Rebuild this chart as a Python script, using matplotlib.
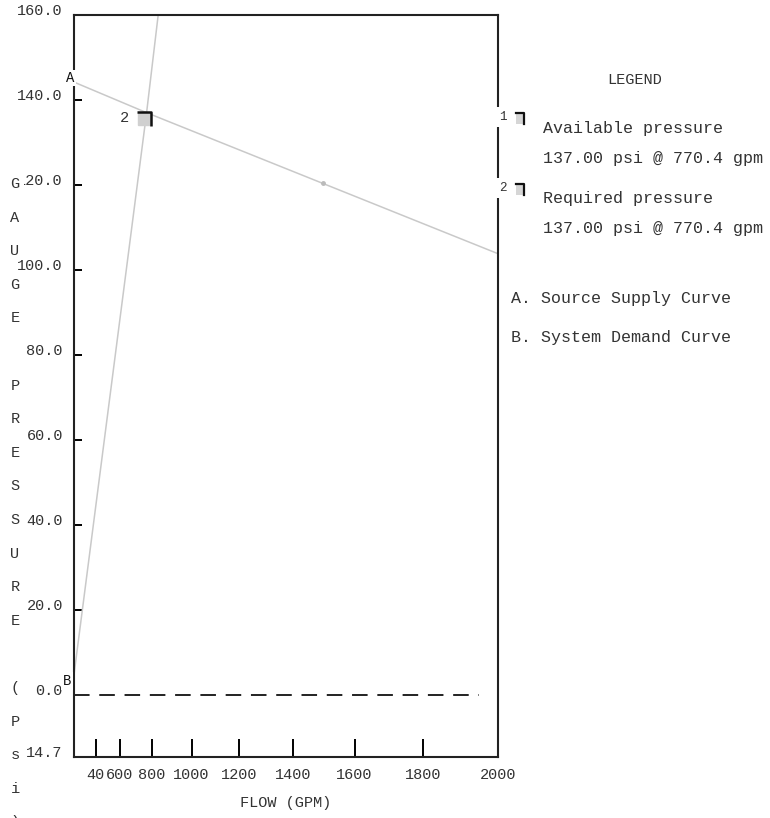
import numpy as np
import matplotlib
matplotlib.use('Agg')
import matplotlib.pyplot as plt
from matplotlib.path import Path
from matplotlib.patches import Rectangle
from matplotlib.transforms import ScaledTranslation

plt.rcParams['font.family'] = ['Liberation Mono', 'DejaVu Sans Mono']

# hydraulic graph paper: flow axis spaced as Q^1.85
supply_flow = [0, 770.4, 2000]
supply_psi = [144.2, 137.0, 103.8]
demand_flow = [0, 770.4, 900]
demand_psi = [4.7, 137.0, 185.0]
check_flow = [1500]
check_psi = [120.5]
atm_flow = [0, 1950]
atm_psi = [0, 0]
op_flow = 770.4
op_psi = 137.0

x_ticks = [400, 600, 800, 1000, 1200, 1400, 1600, 1800, 2000]
x_labels = ['40', '600', '800', '1000', '1200', '1400', '1600', '1800', '2000']
y_ticks = [-14.7, 0, 20, 40, 60, 80, 100, 120, 140, 160]
y_labels = ['14.7', '0.0', '20.0', '40.0', '60.0', '80.0', '100.0', '120.0', '140.0', '160.0']

legend_lines = [('1', 'Available pressure', '137.00 psi @ 770.4 gpm'),
                ('2', 'Required pressure', '137.00 psi @ 770.4 gpm')]
curve_notes = ['A. Source Supply Curve', 'B. System Demand Curve']

W, H = 770, 818
fig = plt.figure(figsize=(W / 100, H / 100), dpi=100)
ax = fig.add_axes([74 / W, 1 - 757 / H, 424 / W, 742 / H])


def fwd(q):
    q = np.asarray(q, dtype=float)
    return np.sign(q) * np.abs(q) ** 1.85


def inv(v):
    v = np.asarray(v, dtype=float)
    return np.sign(v) * np.abs(v) ** (1 / 1.85)


ax.set_xscale('function', functions=(fwd, inv))
ax.set_xlim(0, 2000)
ax.set_ylim(-14.7, 160)

grey = '#c9c9c9'
txt = '#333333'
ax.plot(supply_flow, supply_psi, color=grey, lw=1.1)
ax.plot(demand_flow, demand_psi, color=grey, lw=1.1)
ax.plot(check_flow, check_psi, 'o', ms=2.5, color='#bbbbbb')
ax.plot(atm_flow, atm_psi, color='#222222', lw=1.4, dashes=(8, 5))

# operating point marker
bracket = Path([(-1, 1), (1, 1), (1, -1)], [Path.MOVETO, Path.LINETO, Path.LINETO])
off = ax.transData + ScaledTranslation(-0.03, -0.06, fig.dpi_scale_trans)
ax.plot([op_flow], [op_psi], 's', ms=8.5, color='#d0d0d0', transform=off, zorder=4)
ax.plot([op_flow], [op_psi], marker=bracket, ms=10, mfc='none', mec='#111111', mew=1.8,
        transform=off, zorder=5)
ax.annotate('2', (op_flow, op_psi), xytext=(-18, -5), textcoords='offset pixels',
            ha='right', va='center', fontsize=11, color=txt)

ax.annotate('A', (0, supply_psi[0]), xytext=(-4, 4), textcoords='offset pixels',
            ha='center', va='center', fontsize=10, color='#111111', zorder=6,
            bbox=dict(boxstyle='square,pad=0.1', fc='white', ec='none'), annotation_clip=False)
ax.annotate('B', (0, demand_psi[0]), xytext=(-7, -6), textcoords='offset pixels',
            ha='center', va='center', fontsize=10, color='#111111', zorder=6,
            bbox=dict(boxstyle='square,pad=0.15', fc='white', ec='none'), annotation_clip=False)

for s in ax.spines.values():
    s.set_linewidth(1.5)
    s.set_color('#222222')

ax.set_xticks(x_ticks)
ax.set_xticklabels(x_labels)
ax.set_yticks(y_ticks)
ax.set_yticklabels(y_labels)
ax.minorticks_off()
ax.tick_params(axis='x', direction='in', length=13, width=1.4, pad=8,
               labelsize=11, labelcolor=txt)
ax.tick_params(axis='y', direction='in', length=6, width=1.4, pad=8,
               labelsize=11, labelcolor=txt)
for t in ax.yaxis.get_major_ticks():
    if t.get_loc() in (-14.7, 0, 160):
        t.tick1line.set_visible(False)
for t in ax.xaxis.get_major_ticks():
    if t.get_loc() == 2000:
        t.tick1line.set_visible(False)
lift = ScaledTranslation(0, 0.055, fig.dpi_scale_trans)
for lab in ax.get_yticklabels():
    lab.set_transform(lab.get_transform() + lift)

ax.set_xlabel('FLOW (GPM)', fontsize=11, color=txt, labelpad=10)

# vertical axis title, one letter per row (first G sits over the "1" of 120.0)
for k, ch in enumerate('GAUGE PRESSURE (Psi)'):
    if k == 0:
        fig.text(15 / W, 1 - 184 / H, ch, ha='center', va='center', fontsize=11,
                 color=txt, zorder=5,
                 bbox=dict(boxstyle='square,pad=0.3', fc='white', ec='none'))
    else:
        fig.text(15 / W, 1 - (184 + k * 33.6) / H, ch, ha='center', va='center',
                 fontsize=11, color=txt, zorder=-1)

# legend panel
fig.text(635 / W, 1 - 80 / H, 'LEGEND', ha='center', va='center', fontsize=11, color=txt)
for i, (num, head, val) in enumerate(legend_lines):
    y0 = 117 + i * 71
    fig.text(503 / W, 1 - y0 / H, num, ha='center', va='center', fontsize=9, color=txt,
             bbox=dict(boxstyle='square,pad=0.35', fc='white', ec='none'))
    fig.add_artist(Rectangle((516 / W, 1 - (y0 + 7) / H), 7 / W, 11 / H,
                             transform=fig.transFigure, fc='#d6d6d6', ec='none',
                             hatch='//////', lw=0))
    fig.add_artist(plt.Line2D([516 / W, 524 / W, 524 / W],
                              [1 - (y0 - 4) / H, 1 - (y0 - 4) / H, 1 - (y0 + 7) / H],
                              transform=fig.transFigure, color='#111111', lw=1.6))
    fig.text(543 / W, 1 - (y0 + 11) / H, head, ha='left', va='center', fontsize=12, color=txt)
    fig.text(543 / W, 1 - (y0 + 41) / H, val, ha='left', va='center', fontsize=12, color=txt)
for i, note in enumerate(curve_notes):
    fig.text(511 / W, 1 - (298 + i * 39) / H, note, ha='left', va='center',
             fontsize=12, color=txt)

fig.savefig('out.png', dpi=100)
